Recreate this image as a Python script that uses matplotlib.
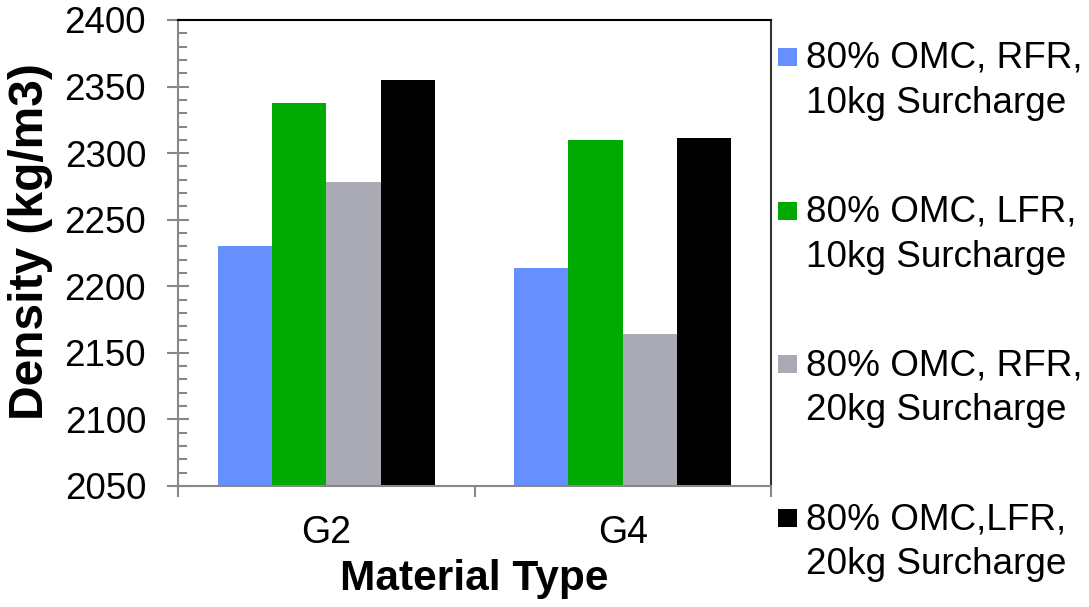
import matplotlib
matplotlib.use("Agg")
import matplotlib.pyplot as plt
from matplotlib.patches import Rectangle
from matplotlib.ticker import MultipleLocator, FixedLocator
import numpy as np

plt.rcParams['font.family'] = ['Liberation Sans', 'DejaVu Sans']

# data
categories = ['G2', 'G4']
series_names = ['80% OMC, RFR,\n10kg Surcharge',
                '80% OMC, LFR,\n10kg Surcharge',
                '80% OMC, RFR,\n20kg Surcharge',
                '80% OMC,LFR,\n20kg Surcharge']
rfr_10 = [2230, 2214]
lfr_10 = [2338, 2310]
rfr_20 = [2278, 2164]
lfr_20 = [2355, 2311]
series_values = [rfr_10, lfr_10, rfr_20, lfr_20]
colors = ['#6690FF', '#00AA00', '#AAAAB4', '#000000']

W, H = 1089, 607
fig = plt.figure(figsize=(W / 100, H / 100), dpi=100)
ax = fig.add_axes([178 / W, 1 - 486 / H, (771 - 178) / W, (486 - 20) / H])

x = np.arange(len(categories))
bw = 0.183
for i, (vals, c) in enumerate(zip(series_values, colors)):
    ax.bar(x + (i - 1.5) * bw, np.array(vals) - 2050, bw, bottom=2050,
           color=c, linewidth=0, zorder=2)

ax.set_xlim(-0.5, 1.5)
ax.set_ylim(2050, 2400)

# y axis ticks
ax.yaxis.set_major_locator(MultipleLocator(50))
ax.yaxis.set_minor_locator(MultipleLocator(10))
ax.tick_params(axis='y', which='major', direction='inout', length=16,
               width=1.5, color='#888888', labelsize=26.5, pad=15)
ax.tick_params(axis='y', which='minor', direction='in', length=6.5,
               width=1.5, color='#888888')

# x axis: labels at centers, tick marks at boundaries
ax.set_xticks(x)
ax.set_xticklabels(categories)
ax.xaxis.set_minor_locator(FixedLocator([-0.5, 0.5, 1.5]))
ax.tick_params(axis='x', which='major', length=0, labelsize=27, pad=21)
ax.tick_params(axis='x', which='minor', direction='out', length=8,
               width=1.5, color='#888888')

for side in ['left', 'bottom']:
    ax.spines[side].set_color('#888888')
    ax.spines[side].set_linewidth(1.5)
ax.spines['top'].set_color('black')
ax.spines['top'].set_linewidth(1.5)
ax.spines['right'].set_color('#333333')
ax.spines['right'].set_linewidth(1.5)

# axis titles
fig.text(474 / W, 1 - 590 / H, 'Material Type', ha='center', va='baseline',
         fontsize=30.5, fontweight='bold')
fig.text(31 / W, 1 - 242 / H, 'Density (kg/m3)', ha='center', va='center',
         rotation=90, fontsize=34.5, fontweight='bold')

# legend, drawn by hand so the square sits on the first line
baselines = [68, 222, 375, 529]
for name, c, yb in zip(series_names, colors, baselines):
    fig.add_artist(Rectangle((778 / W, 1 - (yb - 2) / H), 19 / W, 18 / H,
                             transform=fig.transFigure, color=c, lw=0))
    line1, line2 = name.split('\n')
    fig.text(806 / W, 1 - yb / H, line1, ha='left', va='baseline',
             fontsize=26.6)
    fig.text(806 / W, 1 - (yb + 45) / H, line2, ha='left', va='baseline',
             fontsize=26.6)

fig.savefig('out.png', dpi=100)
